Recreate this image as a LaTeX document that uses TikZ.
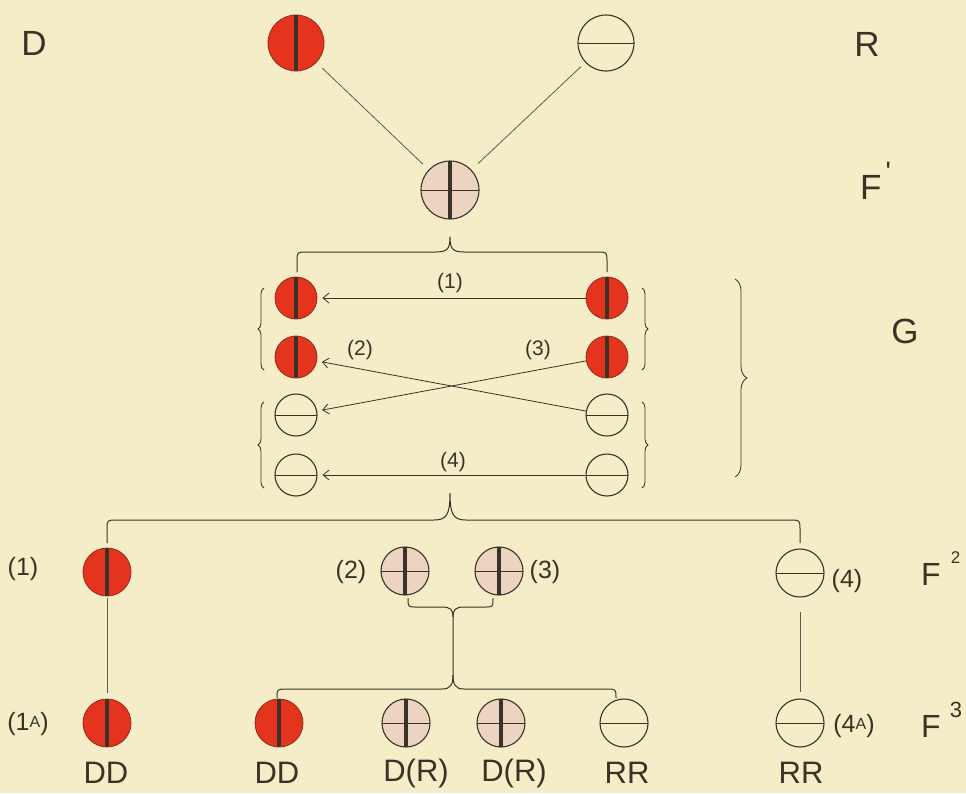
\documentclass[tikz,border=0pt]{standalone}
\usepackage{fontspec}
\setmainfont{Liberation Sans}
\usetikzlibrary{arrows.meta,decorations.pathreplacing}
\definecolor{bgc}{RGB}{244,237,199}
\definecolor{ink}{RGB}{58,50,38}
\definecolor{redc}{RGB}{228,52,30}
\definecolor{reddark}{RGB}{150,40,25}
\definecolor{pinkc}{RGB}{237,212,193}
\newcommand{\fsz}[1]{\fontsize{#1}{#1}\selectfont}
\begin{document}
\begin{tikzpicture}[x=1pt,y=-1pt,
  ball/.style={circle,inner sep=0pt,minimum size=#1,line width=1.1pt,draw=ink},
  domc/.style={ball=#1,fill=redc,draw=reddark,line width=0.8pt,
    path picture={\draw[line width=3.6pt,ink](path picture bounding box.north)--(path picture bounding box.south);}},
  recc/.style={ball=#1,fill=bgc,
    path picture={\draw[line width=1pt,ink](path picture bounding box.west)--(path picture bounding box.east);}},
  hybc/.style={ball=#1,fill=pinkc,
    path picture={\draw[line width=1pt,ink](path picture bounding box.west)--(path picture bounding box.east);
                  \draw[line width=3.6pt,ink](path picture bounding box.north)--(path picture bounding box.south);}},
  lbl/.style={inner sep=0pt,text=ink},
  ln/.style={draw=ink!80,line width=0.8pt},
  brk/.style={draw=ink,line width=1pt},
  arr/.style={draw=ink,line width=0.8pt,-{Straight Barb[length=6pt,width=10pt]},shorten >=5pt},
  cbrace/.style={draw=ink,line width=0.8pt,decorate,decoration={brace,amplitude=#1}}
]
\fill[bgc] (0,0) rectangle (966,793);
\useasboundingbox (0,0) rectangle (966,793);

% parents
\node[lbl,font=\fsz{35}] (tD) at (34,43) {D};
\node[lbl,font=\fsz{35}] (tR) at (867,44) {R};
\node[domc=56] (pD) at (296,43) {};
\node[recc=56] (pR) at (606,43) {};
\node[hybc=58] (f1) at (450,190) {};
\node[lbl,font=\fsz{35},anchor=base west] (tF1) at (860,199) {F\hspace{4pt}\raisebox{18pt}{\fsz{28}\textquotesingle}};
\draw[ln,shorten <=8pt,shorten >=8pt] (pD) -- (f1);
\draw[ln,shorten <=6pt,shorten >=9pt] (pR) -- (f1);

% brace under F1
\draw[brk] (297,272) -- (297,262) .. controls (297,252) .. (307,252) -- (436,252)
  .. controls (448,252) and (450,248) .. (450,237)
  .. controls (450,248) and (452,252) .. (464,252) -- (597,252)
  .. controls (607,252) .. (607,262) -- (607,272);

% gametes
\node[domc=42] (g1l) at (296,298) {};
\node[domc=42] (g1r) at (607,298) {};
\node[domc=42] (g2l) at (296,357) {};
\node[domc=42] (g2r) at (607,357) {};
\node[recc=42] (g3l) at (296,415) {};
\node[recc=42] (g3r) at (607,415) {};
\node[recc=42] (g4l) at (296,475) {};
\node[recc=42] (g4r) at (607,475) {};
\draw[arr] (g1r) -- (g1l);
\draw[arr] (g3r) -- (g2l);
\draw[arr] (g2r) -- (g3l);
\draw[arr] (g4r) -- (g4l);
\node[lbl,font=\fsz{21}] (l1) at (450,283) {(1)};
\node[lbl,font=\fsz{21}] (l2) at (360,350) {(2)};
\node[lbl,font=\fsz{21}] (l3) at (538,350) {(3)};
\node[lbl,font=\fsz{21}] (l4) at (453,462) {(4)};
\draw[cbrace=6pt] (264,370) -- (264,288);
\draw[cbrace=6pt] (264,488) -- (264,402);
\draw[cbrace=6pt] (642,288) -- (642,370);
\draw[cbrace=6pt] (642,402) -- (642,488);
\draw[cbrace=12pt] (735,279) -- (735,477);
\node[lbl,font=\fsz{35}] (tG) at (905,331) {G};

% brace under G
\draw[brk] (107,543) -- (107,530) .. controls (107,520) .. (117,520) -- (434,520)
  .. controls (447,520) and (450,514) .. (450,493)
  .. controls (450,514) and (453,520) .. (466,520) -- (790,520)
  .. controls (800,520) .. (800,530) -- (800,543);

% F2
\node[domc=48] (f2a) at (107,572) {};
\node[hybc=48] (f2b) at (405,571) {};
\node[hybc=48] (f2c) at (499,571) {};
\node[recc=48] (f2d) at (800,573) {};
\node[lbl,font=\fsz{25}] (m1) at (23,569) {(1)};
\node[lbl,font=\fsz{25}] (m2) at (351,572) {(2)};
\node[lbl,font=\fsz{25}] (m3) at (545,572) {(3)};
\node[lbl,font=\fsz{25}] (m4) at (847,581) {(4)};
\node[lbl,font=\fsz{32},anchor=base west] (tF2) at (921,585) {F\hspace{10pt}\raisebox{22pt}{\fsz{17}2}};

% brace under (2)(3) and over F3
\draw[brk] (408,598) .. controls (408,607) .. (416,607) -- (442,607)
  .. controls (451,607) and (453,610) .. (453,617) -- (453,675)
  .. controls (453,684) and (451,689) .. (442,689) -- (287,689)
  .. controls (277,689) .. (277,698);
\draw[brk] (493,598) .. controls (493,607) .. (485,607) -- (464,607)
  .. controls (455,607) and (453,610) .. (453,617);
\draw[brk] (453,675) .. controls (453,684) and (455,689) .. (464,689) -- (606,689)
  .. controls (616,689) .. (616,698);

% F3
\node[domc=48] (f3a) at (107,723) {};
\node[domc=48] (f3b) at (279,723) {};
\node[hybc=48] (f3c) at (406,723) {};
\node[hybc=48] (f3d) at (501,723) {};
\node[recc=48] (f3e) at (624,723) {};
\node[recc=48] (f3f) at (800,723) {};
\draw[ln,shorten <=2pt,shorten >=6pt] (f2a) -- (f3a);
\draw[ln,shorten <=14pt,shorten >=6pt] (f2d) -- (f3f);
\node[lbl,font=\fsz{25}] (m1a) at (28,724) {(1\raisebox{3pt}{\fsz{16}A})};
\node[lbl,font=\fsz{25}] (m4a) at (854,726) {(4\raisebox{3pt}{\fsz{16}A})};
\node[lbl,font=\fsz{32},anchor=base west] (tF3) at (921,737) {F\hspace{9pt}\raisebox{20pt}{\fsz{22}3}};
\node[lbl,font=\fsz{31}] (n1) at (106,773) {DD};
\node[lbl,font=\fsz{31}] (n2) at (277,773) {DD};
\node[lbl,font=\fsz{31}] (n3) at (416,773) {D(R)};
\node[lbl,font=\fsz{31}] (n4) at (514,773) {D(R)};
\node[lbl,font=\fsz{31}] (n5) at (627,773) {RR};
\node[lbl,font=\fsz{31}] (n6) at (801,773) {RR};
\end{tikzpicture}
\end{document}
